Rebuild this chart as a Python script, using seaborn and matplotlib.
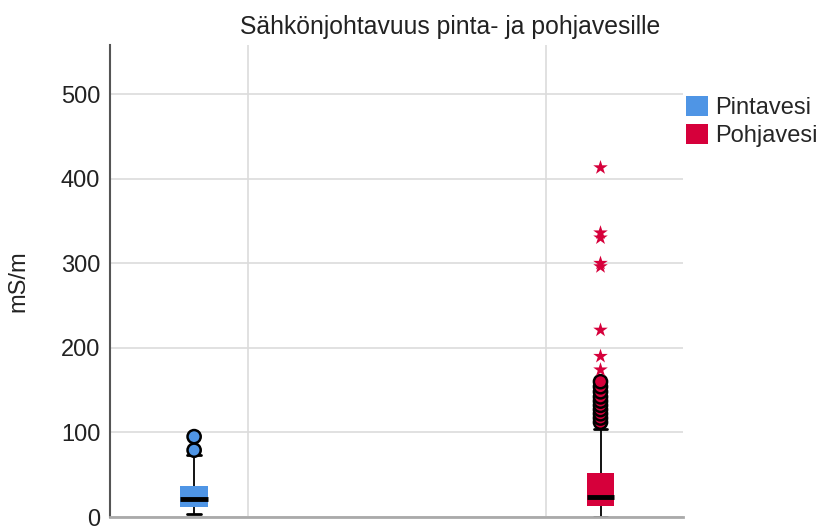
import matplotlib
matplotlib.use('Agg')
import matplotlib.pyplot as plt
from matplotlib.patches import Patch
import pandas as pd
import seaborn as sns

# Groups and colours
groups = ['Pintavesi', 'Pohjavesi']
colors = ['#4F95E5', '#D6003B']

# Conductivity samples (mS/m)
pintavesi = [3.5, 5, 7, 8, 10, 12, 14, 16, 18, 20, 21, 23, 26, 29, 33, 37, 44,
             52, 73, 79, 95]
pohjavesi = [0, 1, 2, 3, 4, 5, 5.5, 6, 6.5, 7, 7.5, 8, 8.5, 9, 9.5, 10, 10.5,
             11, 11.5, 12, 12.5, 12.8, 13,
             13.5, 14, 14.5, 15, 15.5, 16, 16.5, 17, 17.5, 18, 18.5, 19, 19.5,
             20, 20.5, 21, 21.5, 22, 22.5, 23, 23.5, 24,
             25, 26, 27, 28, 29, 30, 31, 32, 33, 34, 35, 36, 38, 40, 42, 44, 46,
             47, 48, 49, 50, 52,
             60, 72, 88, 104,
             112, 117, 122, 127, 132, 137, 142, 148, 154, 160,
             174, 190, 221, 296, 300, 330, 336, 413]

title = 'Sähkönjohtavuus pinta- ja pohjavesille'
ylabel = 'mS/m'
yticks = [0, 100, 200, 300, 400, 500]

sns.set_style('white')
plt.rcParams['font.family'] = ['Liberation Sans', 'DejaVu Sans']

df = pd.DataFrame({
    'Vesi': ['Pintavesi'] * len(pintavesi) + ['Pohjavesi'] * len(pohjavesi),
    'mS/m': pintavesi + pohjavesi,
})

# SPSS style: circles for outliers, stars for extremes (> 3 IQR)
q1 = df.groupby('Vesi')['mS/m'].transform(lambda s: s.quantile(0.25))
q3 = df.groupby('Vesi')['mS/m'].transform(lambda s: s.quantile(0.75))
iqr = q3 - q1
dist = pd.concat([df['mS/m'] - q3, q1 - df['mS/m']], axis=1).max(axis=1)
df['kind'] = 'normal'
df.loc[dist > 1.5 * iqr, 'kind'] = 'outlier'
df.loc[dist > 3 * iqr, 'kind'] = 'extreme'

pal = dict(zip(groups, colors))

fig = plt.figure(figsize=(8.23, 5.27), dpi=100)
ax = fig.add_axes([110 / 823, 10 / 527, 573 / 823, 472 / 527])

sns.boxplot(data=df, x='Vesi', y='mS/m', hue='Vesi', order=groups, hue_order=groups,
            palette=pal, saturation=1, width=0.068, showfliers=False,
            linecolor='black', linewidth=1.3, legend=False, ax=ax,
            boxprops={'linewidth': 0}, medianprops={'linewidth': 3.5},
            capprops={'linewidth': 2})

sns.stripplot(data=df[df['kind'] == 'outlier'], x='Vesi', y='mS/m', hue='Vesi',
              order=groups, hue_order=groups, palette=pal, jitter=False,
              size=9.5, linewidth=1.8, edgecolor='black', marker='o',
              legend=False, ax=ax)
sns.stripplot(data=df[df['kind'] == 'extreme'], x='Vesi', y='mS/m', hue='Vesi',
              order=groups, hue_order=groups, palette=pal, jitter=False,
              size=11, linewidth=0, marker='*', legend=False, ax=ax)

ax.set_xlim(-0.207, 1.203)
ax.set_ylim(0, 558)
ax.set_xticks([0.133, 0.867])
ax.set_xticklabels([])
ax.set_yticks(yticks)
ax.tick_params(axis='both', length=0)
ax.tick_params(axis='y', labelsize=17, pad=7, labelcolor='#222222')
ax.set_xlabel('')
ax.set_ylabel(ylabel, fontsize=17, color='#222222')
ax.yaxis.set_label_coords(-0.14, 0.5)
ax.grid(True, color='#DCDCDC', linewidth=1.2)
ax.set_axisbelow(True)

for side in ['top', 'right']:
    ax.spines[side].set_visible(False)
ax.spines['left'].set_color('#555555')
ax.spines['left'].set_linewidth(1.5)
ax.spines['bottom'].set_color('#AAAAAA')
ax.spines['bottom'].set_linewidth(2)

ax.set_title(title, fontsize=17.8, color='#222222', x=0.593, pad=8)

handles = [Patch(facecolor=c, edgecolor='none', label=g) for g, c in zip(groups, colors)]
fig.legend(handles=handles, loc='upper left', bbox_to_anchor=(686 / 823, 1 - 96 / 527),
           frameon=False, fontsize=17, handlelength=0.95, handleheight=0.95,
           handletextpad=0.3, labelspacing=0.2, borderpad=0, borderaxespad=0)

fig.savefig('out.png', dpi=100)
